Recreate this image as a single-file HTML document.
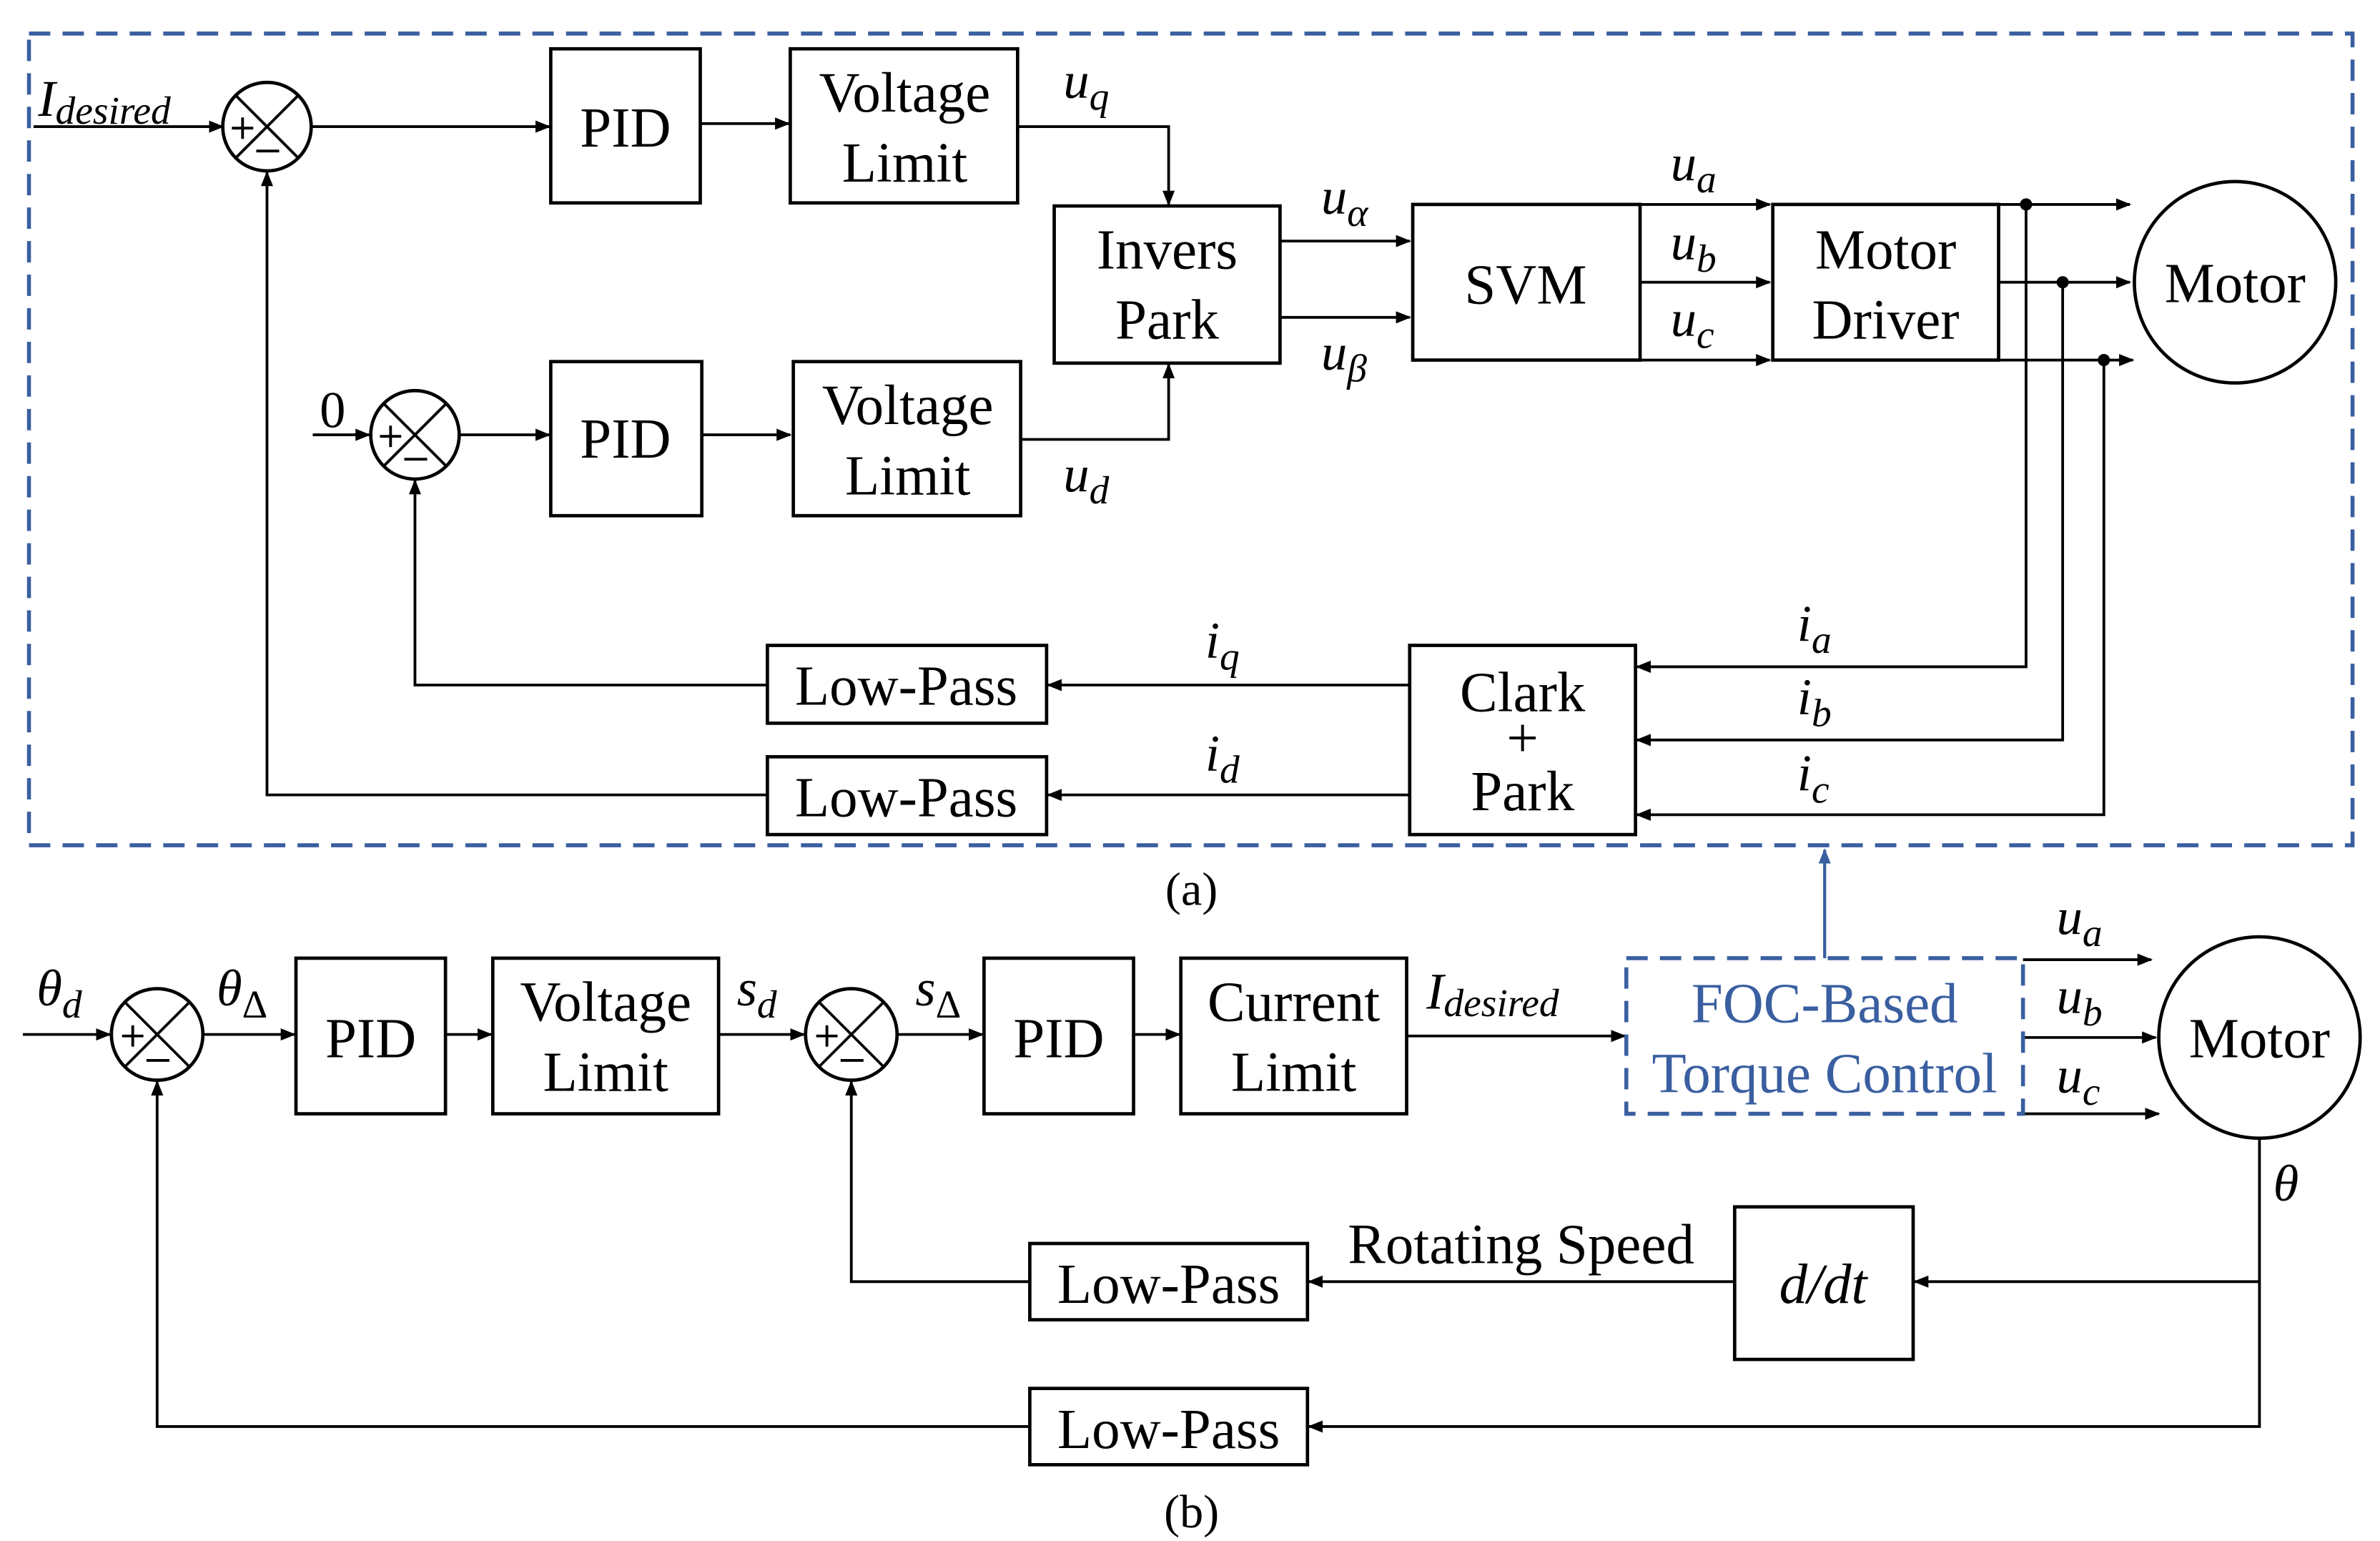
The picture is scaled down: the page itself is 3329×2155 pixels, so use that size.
<!DOCTYPE html>
<html><head><meta charset="utf-8"><style>
html,body{margin:0;padding:0;background:#fff;}
svg{display:block;}
text{font-family:"Liberation Serif",serif;fill:#000;}
.b{font-size:37px;text-anchor:middle;}
.m{font-style:italic;font-size:34px;}
.s{font-size:26px;}
.blue{fill:#3a5fa0;}
</style></head><body>
<svg width="3329" height="2155" viewBox="0 0 1560 1010" preserveAspectRatio="none" xmlns="http://www.w3.org/2000/svg">
<defs>
<marker id="a" markerUnits="userSpaceOnUse" markerWidth="10" markerHeight="8" refX="9" refY="4" orient="auto"><path d="M0,0 L10,4 L0,8 z" fill="#000"/></marker>
<marker id="ab" markerUnits="userSpaceOnUse" markerWidth="10" markerHeight="8" refX="9" refY="4" orient="auto"><path d="M0,0 L10,4 L0,8 z" fill="#3a5fa0"/></marker>
</defs>
<rect x="0" y="0" width="1560" height="1010" fill="#fff"/>
<rect x="19" y="22" width="1523" height="532" fill="none" stroke="#3a5fa0" stroke-width="2.6" stroke-dasharray="14,8"/>

<g fill="none" stroke="#000" stroke-width="2.2">
<rect x="361" y="32" width="98" height="101"/>
<rect x="518" y="32" width="149" height="101"/>
<rect x="691" y="135" width="148" height="103"/>
<rect x="361" y="237" width="99" height="101"/>
<rect x="520" y="237" width="149" height="101"/>
<rect x="926" y="134" width="149" height="102"/>
<rect x="1162" y="134" width="148" height="102"/>
<rect x="924" y="423" width="148" height="124"/>
<rect x="503" y="423" width="183" height="51"/>
<rect x="503" y="496" width="183" height="51"/>
<circle cx="1465" cy="185" r="66"/>
<circle cx="175" cy="83" r="29"/>
<circle cx="272" cy="285" r="29"/>
<circle cx="103" cy="678" r="30"/>
<circle cx="558" cy="678" r="30"/>
<rect x="194" y="628" width="98" height="102"/>
<rect x="323" y="628" width="148" height="102"/>
<rect x="645" y="628" width="98" height="102"/>
<rect x="774" y="628" width="148" height="102"/>
<rect x="1137" y="791" width="117" height="100"/>
<rect x="675" y="815" width="182" height="50"/>
<rect x="675" y="910" width="182" height="50"/>
<circle cx="1481" cy="680" r="66"/>
</g>
<g stroke="#000" stroke-width="1.8">
<line x1="154.5" y1="62.5" x2="195.5" y2="103.5"/><line x1="195.5" y1="62.5" x2="154.5" y2="103.5"/>
<line x1="251.5" y1="264.5" x2="292.5" y2="305.5"/><line x1="292.5" y1="264.5" x2="251.5" y2="305.5"/>
<line x1="82" y1="657" x2="124" y2="699"/><line x1="124" y1="657" x2="82" y2="699"/>
<line x1="537" y1="657" x2="579" y2="699"/><line x1="579" y1="657" x2="537" y2="699"/>
<line x1="152" y1="84" x2="166" y2="84"/><line x1="159" y1="77" x2="159" y2="91"/><line x1="168" y1="99" x2="183" y2="99"/>
<line x1="249" y1="286" x2="263" y2="286"/><line x1="256" y1="279" x2="256" y2="293"/><line x1="265" y1="301" x2="280" y2="301"/>
<line x1="80" y1="679" x2="94" y2="679"/><line x1="87" y1="672" x2="87" y2="686"/><line x1="96" y1="695" x2="111" y2="695"/>
<line x1="535" y1="679" x2="549" y2="679"/><line x1="542" y1="672" x2="542" y2="686"/><line x1="551" y1="695" x2="566" y2="695"/>
</g>
<g fill="none" stroke="#000" stroke-width="1.8" marker-end="url(#a)">
<line x1="22" y1="83" x2="146" y2="83"/>
<line x1="204" y1="83" x2="360" y2="83"/>
<line x1="459" y1="81" x2="517" y2="81"/>
<polyline points="667,83 766,83 766,134"/>
<polyline points="669,288 766,288 766,239"/>
<line x1="205" y1="285" x2="242" y2="285"/>
<line x1="301" y1="285" x2="360" y2="285"/>
<line x1="460" y1="285" x2="518" y2="285"/>
<line x1="839" y1="158" x2="924" y2="158"/>
<line x1="839" y1="208" x2="924" y2="208"/>
<line x1="1075" y1="134" x2="1160" y2="134"/>
<line x1="1075" y1="185" x2="1160" y2="185"/>
<line x1="1075" y1="236" x2="1160" y2="236"/>
<line x1="1310" y1="134" x2="1396" y2="134"/>
<line x1="1310" y1="185" x2="1396" y2="185"/>
<line x1="1310" y1="236" x2="1398" y2="236"/>
<polyline points="1328,134 1328,437 1073,437"/>
<polyline points="1352,185 1352,485 1073,485"/>
<polyline points="1379,236 1379,534 1073,534"/>
<line x1="924" y1="449" x2="687" y2="449"/>
<line x1="924" y1="521" x2="687" y2="521"/>
<polyline points="503,449 272,449 272,315"/>
<polyline points="503,521 175,521 175,113"/>
<line x1="15" y1="678" x2="72" y2="678"/>
<line x1="133" y1="678" x2="193" y2="678"/>
<line x1="292" y1="678" x2="322" y2="678"/>
<line x1="471" y1="678" x2="527" y2="678"/>
<line x1="588" y1="678" x2="644" y2="678"/>
<line x1="743" y1="678" x2="773" y2="678"/>
<line x1="922" y1="679" x2="1065" y2="679"/>
<line x1="1326" y1="629" x2="1410" y2="629"/>
<line x1="1326" y1="680" x2="1413" y2="680"/>
<line x1="1326" y1="730" x2="1415" y2="730"/>
<polyline points="1481,746 1481,840 1255,840"/>
<line x1="1137" y1="840" x2="858" y2="840"/>
<polyline points="1481,840 1481,935 858,935"/>
<polyline points="675,840 558,840 558,709"/>
<polyline points="675,935 103,935 103,709"/>
</g>
<g fill="#000"><circle cx="1328" cy="134" r="4"/><circle cx="1352" cy="185" r="4"/><circle cx="1379" cy="236" r="4"/></g>
<rect x="1066" y="628" width="260" height="102" fill="none" stroke="#3a5fa0" stroke-width="2.6" stroke-dasharray="14,8"/>
<line x1="1196" y1="628" x2="1196" y2="557" stroke="#3a5fa0" stroke-width="2" marker-end="url(#ab)"/>

<text class="b" x="410" y="96">PID</text>
<text class="b" x="593" y="73">Voltage</text><text class="b" x="593" y="119">Limit</text>
<text class="b" x="765" y="176">Invers</text><text class="b" x="765" y="222">Park</text>
<text class="b" x="410" y="300">PID</text>
<text class="b" x="595" y="278">Voltage</text><text class="b" x="595" y="324">Limit</text>
<text class="b" x="1000" y="199">SVM</text>
<text class="b" x="1236" y="176">Motor</text><text class="b" x="1236" y="222">Driver</text>
<text class="b" x="1465" y="198">Motor</text>
<text class="b" x="998" y="466">Clark</text><text class="b" x="998" y="496">+</text><text class="b" x="998" y="531">Park</text>
<text class="b" x="594" y="462">Low-Pass</text>
<text class="b" x="594" y="535">Low-Pass</text>
<text class="b" x="781" y="593" style="font-size:31px">(a)</text>

<text class="b" x="243" y="693">PID</text>
<text class="b" x="397" y="669">Voltage</text><text class="b" x="397" y="715">Limit</text>
<text class="b" x="694" y="693">PID</text>
<text class="b" x="848" y="669">Current</text><text class="b" x="848" y="715">Limit</text>
<text class="b blue" x="1196" y="670">FOC-Based</text><text class="b blue" x="1196" y="716">Torque Control</text>
<text class="b" x="1481" y="693">Motor</text>
<text class="b" x="997" y="828">Rotating Speed</text>
<text class="b m" x="1195" y="854" style="font-size:37px">d/dt</text>
<text class="b" x="766" y="854">Low-Pass</text>
<text class="b" x="766" y="949">Low-Pass</text>
<text class="b" x="781" y="1001" style="font-size:31px">(b)</text>

<text class="m" x="25" y="76">I<tspan class="s" dy="5">desired</tspan></text>
<text class="m" x="697" y="64">u<tspan class="s" dy="8">q</tspan></text>
<text class="m" x="697" y="322">u<tspan class="s" dy="8">d</tspan></text>
<text class="b" x="218" y="280" style="font-size:34px">0</text>
<text class="m" x="866" y="140">u<tspan class="s" dy="8">α</tspan></text>
<text class="m" x="866" y="242">u<tspan class="s" dy="8">β</tspan></text>
<text class="m" x="1095" y="118">u<tspan class="s" dy="8">a</tspan></text>
<text class="m" x="1095" y="170">u<tspan class="s" dy="8">b</tspan></text>
<text class="m" x="1095" y="220">u<tspan class="s" dy="8">c</tspan></text>
<text class="m" x="1178" y="420">i<tspan class="s" dy="8">a</tspan></text>
<text class="m" x="1178" y="468">i<tspan class="s" dy="8">b</tspan></text>
<text class="m" x="1178" y="518">i<tspan class="s" dy="8">c</tspan></text>
<text class="m" x="790" y="431">i<tspan class="s" dy="8">q</tspan></text>
<text class="m" x="790" y="505">i<tspan class="s" dy="8">d</tspan></text>
<text class="m" x="24" y="659">θ<tspan class="s" dy="8">d</tspan></text>
<text class="m" x="142" y="659">θ<tspan class="s" dy="8" style="font-style:normal">Δ</tspan></text>
<text class="m" x="483" y="659">s<tspan class="s" dy="8">d</tspan></text>
<text class="m" x="600" y="659">s<tspan class="s" dy="8" style="font-style:normal">Δ</tspan></text>
<text class="m" x="935" y="661">I<tspan class="s" dy="5">desired</tspan></text>
<text class="m" x="1348" y="612">u<tspan class="s" dy="8">a</tspan></text>
<text class="m" x="1348" y="664">u<tspan class="s" dy="8">b</tspan></text>
<text class="m" x="1348" y="716">u<tspan class="s" dy="8">c</tspan></text>
<text class="m" x="1490" y="787">θ</text>
</svg>
</body></html>
